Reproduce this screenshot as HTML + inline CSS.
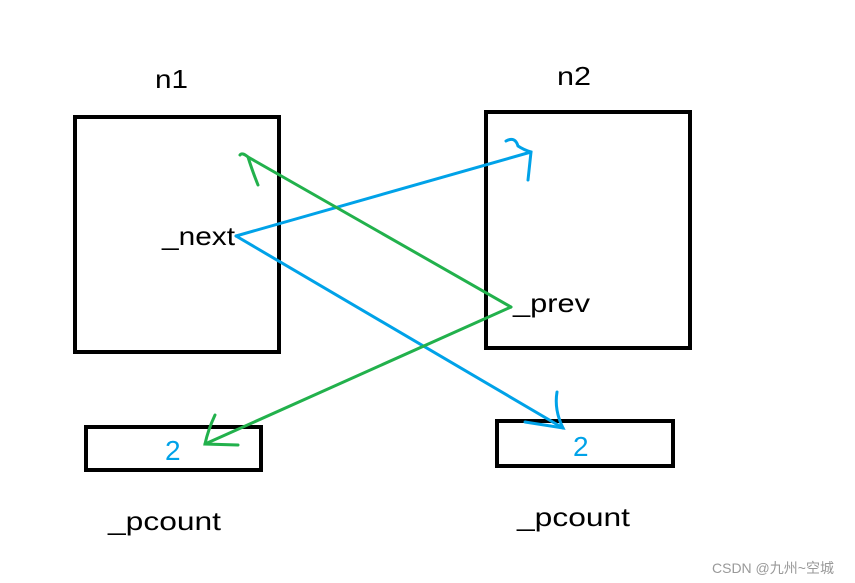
<!DOCTYPE html>
<html><head><meta charset="utf-8"><style>
body{margin:0;background:#fff;width:855px;height:583px;overflow:hidden}
svg{display:block}
text{font-family:"Liberation Sans","Noto Sans CJK SC",sans-serif}
</style></head><body>
<svg width="855" height="583" viewBox="0 0 855 583">
<g fill="none" stroke="#000" stroke-width="4">
<rect x="75" y="117" width="204" height="235"/>
<rect x="486" y="112" width="204" height="236"/>
<rect x="86" y="427" width="175" height="43"/>
<rect x="497" y="421" width="176" height="45"/>
</g>
<text x="155" y="88" font-size="26" textLength="33" lengthAdjust="spacingAndGlyphs">n1</text>
<text x="557" y="85" font-size="26" textLength="34" lengthAdjust="spacingAndGlyphs">n2</text>
<text x="162" y="245" font-size="26" textLength="73" lengthAdjust="spacingAndGlyphs">_next</text>
<text x="513" y="312" font-size="26" textLength="77" lengthAdjust="spacingAndGlyphs">_prev</text>
<text x="165" y="460" font-size="28" fill="#00a2e8">2</text>
<text x="573" y="456" font-size="28" fill="#00a2e8">2</text>
<text x="108" y="530" font-size="26" textLength="113" lengthAdjust="spacingAndGlyphs">_pcount</text>
<text x="517" y="526" font-size="26" textLength="113" lengthAdjust="spacingAndGlyphs">_pcount</text>
<text x="712" y="573" font-size="14" fill="#999">CSDN @九州~空城</text>
<g fill="none" stroke="#00a2e8" stroke-width="3" stroke-linecap="round">
<path d="M236 236 L531 152"/>
<path d="M236 236 L563 428"/>
<path d="M506 141 Q515 136 518 146 Q524 150 531 152 L528 180"/>
<path d="M557 392 Q554 410 563 428 L525 422"/>
</g>
<g fill="none" stroke="#22b14c" stroke-width="3" stroke-linecap="round">
<path d="M511 307 L248 157"/>
<path d="M511 307 L205 444"/>
<path d="M258 185 Q252 170 248 157 Q242 152 240 155"/>
<path d="M215 415 Q208 430 205 444 L238 445"/>
</g>
</svg>
</body></html>
